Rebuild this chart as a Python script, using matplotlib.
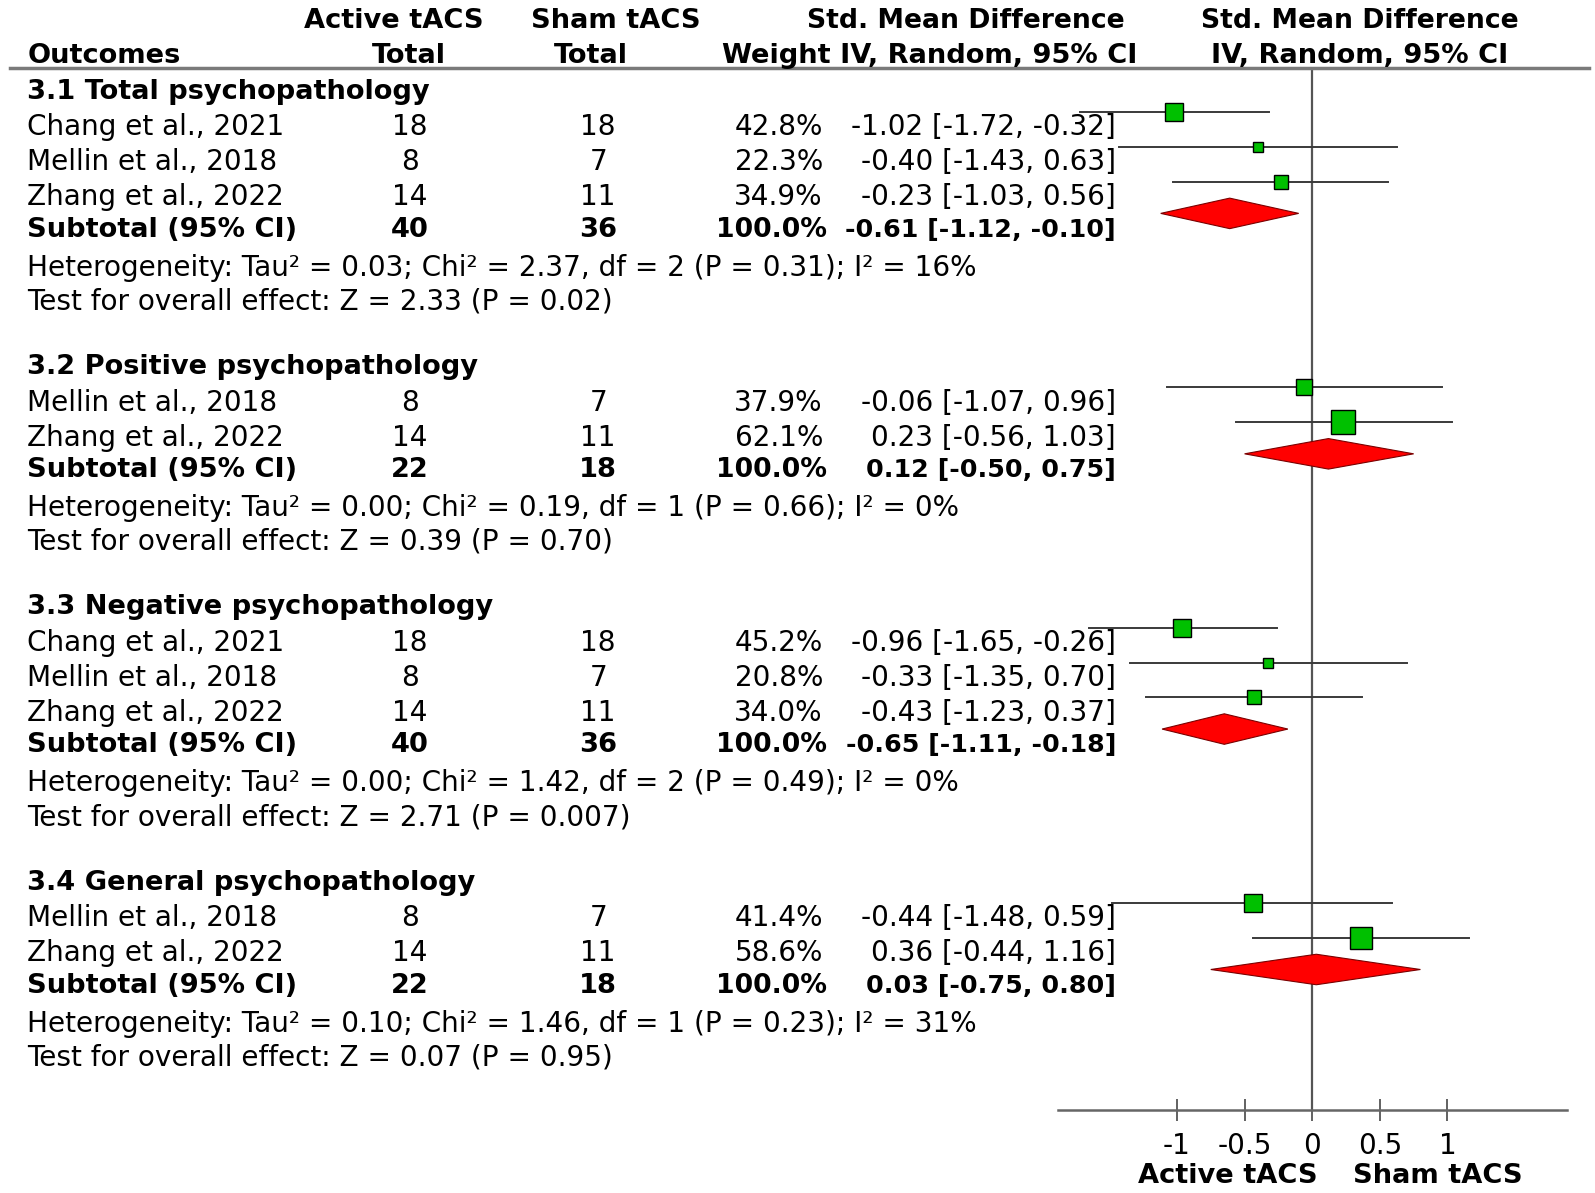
import numpy as np
import matplotlib.pyplot as plt
from matplotlib.lines import Line2D
from matplotlib.patches import Polygon

plt.rcParams['font.family'] = ['DejaVu Sans']
plt.rcParams['axes.unicode_minus'] = False

# ---- data ----
group_titles = ["3.1 Total psychopathology", "3.2 Positive psychopathology",
                "3.3 Negative psychopathology", "3.4 General psychopathology"]

study_names = [["Chang et al., 2021", "Mellin et al., 2018", "Zhang et al., 2022"],
               ["Mellin et al., 2018", "Zhang et al., 2022"],
               ["Chang et al., 2021", "Mellin et al., 2018", "Zhang et al., 2022"],
               ["Mellin et al., 2018", "Zhang et al., 2022"]]
active_n = [[18, 8, 14], [8, 14], [18, 8, 14], [8, 14]]
sham_n = [[18, 7, 11], [7, 11], [18, 7, 11], [7, 11]]
weights = [[42.8, 22.3, 34.9], [37.9, 62.1], [45.2, 20.8, 34.0], [41.4, 58.6]]
smd = [[-1.02, -0.40, -0.23], [-0.06, 0.23], [-0.96, -0.33, -0.43], [-0.44, 0.36]]
ci_low = [[-1.72, -1.43, -1.03], [-1.07, -0.56], [-1.65, -1.35, -1.23], [-1.48, -0.44]]
ci_high = [[-0.32, 0.63, 0.56], [0.96, 1.03], [-0.26, 0.70, 0.37], [0.59, 1.16]]

sub_active = [40, 22, 40, 22]
sub_sham = [36, 18, 36, 18]
sub_smd = [-0.61, 0.12, -0.65, 0.03]
sub_low = [-1.12, -0.50, -1.11, -0.75]
sub_high = [-0.10, 0.75, -0.18, 0.80]

heterogeneity = ["Tau² = 0.03; Chi² = 2.37, df = 2 (P = 0.31); I² = 16%",
                 "Tau² = 0.00; Chi² = 0.19, df = 1 (P = 0.66); I² = 0%",
                 "Tau² = 0.00; Chi² = 1.42, df = 2 (P = 0.49); I² = 0%",
                 "Tau² = 0.10; Chi² = 1.46, df = 1 (P = 0.23); I² = 31%"]
overall = ["Z = 2.33 (P = 0.02)", "Z = 0.39 (P = 0.70)",
           "Z = 2.71 (P = 0.007)", "Z = 0.07 (P = 0.95)"]

ticks = [-1, -0.5, 0, 0.5, 1]
tick_labels = ["-1", "-0.5", "0", "0.5", "1"]

# ---- layout (pixel grid of the reference) ----
W0, H0 = 1568, 1173
FS = 20.1
FSB = 19.6
HALF_CAP = 10  # half cap height, so y is the visual middle of a row
K = 1.006      # row step stretch


def fx(x):
    return x / W0


def fy(y):
    return 1 - y / H0


fig = plt.figure(figsize=(15.95, 11.93), dpi=100)


def txt(x, y, s, ha='left', bold=False, size=None):
    if size is None:
        size = FSB if bold else FS
    fig.text(fx(x), fy(y + HALF_CAP), s, ha=ha, va='baseline', fontsize=size,
             fontweight='bold' if bold else 'normal', color='black')


# header
txt(387, 18, "Active tACS", 'center', True)
txt(605, 18, "Sham tACS", 'center', True)
txt(949, 18, "Std. Mean Difference", 'center', True, 19.2)
txt(1337, 18, "Std. Mean Difference", 'center', True, 19.2)
txt(27, 52, "Outcomes", 'left', True)
txt(402, 52, "Total", 'center', True)
txt(581, 52, "Total", 'center', True)
txt(1118, 52, "Weight IV, Random, 95% CI", 'right', True)
txt(1337, 52, "IV, Random, 95% CI", 'center', True)
fig.add_artist(Line2D([fx(10), fx(1562)], [fy(67), fy(67)], color='#7a7a7a', lw=2.5))

# forest axes
AX_L, AX_R, AX_T, AX_B = 1040, 1540, 67, 1091
ax = fig.add_axes([fx(AX_L), fy(AX_B), (AX_R - AX_L) / W0, (AX_B - AX_T) / H0])
ax.set_xlim(-1.88, 1.88)
ax.set_ylim(AX_B, AX_T)
ax.patch.set_visible(False)
for side in ['top', 'left', 'right']:
    ax.spines[side].set_visible(False)
ax.spines['bottom'].set_color('#666666')
ax.spines['bottom'].set_linewidth(1.8)
ax.set_yticks([])
ax.set_xticks(ticks)
ax.set_xticklabels(tick_labels, fontsize=FS)
ax.tick_params(axis='x', direction='inout', length=16, width=1.3, color='#555555', pad=8)
ax.axvline(0, color='#555555', lw=1.6, zorder=1)

PLOT_SHIFT = -13
y = 87
for g in range(len(group_titles)):
    txt(27, y, group_titles[g], bold=True)
    y += 36 * K
    for i in range(len(study_names[g])):
        txt(27, y, study_names[g][i])
        txt(403, y, str(active_n[g][i]), 'center')
        txt(588, y, str(sham_n[g][i]), 'center')
        txt(809, y, f"{weights[g][i]:.1f}%", 'right')
        txt(1097, y, f"{smd[g][i]:.2f} [{ci_low[g][i]:.2f}, {ci_high[g][i]:.2f}]", 'right')
        yp = y + PLOT_SHIFT
        ax.plot([ci_low[g][i], ci_high[g][i]], [yp, yp], color='#3a3a3a', lw=1.4, zorder=2)
        side_px = 3.9 + 0.317 * weights[g][i]
        ax.plot(smd[g][i], yp, marker='s', ms=side_px * 0.72, mfc='#00c000',
                mec='black', mew=1.0, ls='none', zorder=3)
        y += 34 * K
    y -= 3 * K
    txt(27, y, "Subtotal (95% CI)", bold=True)
    txt(403, y, str(sub_active[g]), 'center', True)
    txt(588, y, str(sub_sham[g]), 'center', True)
    txt(813, y, "100.0%", 'right', True, 19.2)
    txt(1097, y, f"{sub_smd[g]:.2f} [{sub_low[g]:.2f}, {sub_high[g]:.2f}]", 'right', True, 18.3)
    yp = y + PLOT_SHIFT
    ax.add_patch(Polygon([[sub_low[g], yp], [sub_smd[g], yp - 15],
                          [sub_high[g], yp], [sub_smd[g], yp + 15]],
                         closed=True, fc='#ff0000', ec='#7a0000', lw=0.8, zorder=3))
    y += 38 * K
    txt(27, y, "Heterogeneity: " + heterogeneity[g])
    y += 33 * K
    txt(27, y, "Test for overall effect: " + overall[g])
    y += 63 * K

txt(1207, 1153, "Active tACS", 'center', True)
txt(1413, 1153, "Sham tACS", 'center', True)

fig.savefig("out.png", dpi=100, facecolor='white')
